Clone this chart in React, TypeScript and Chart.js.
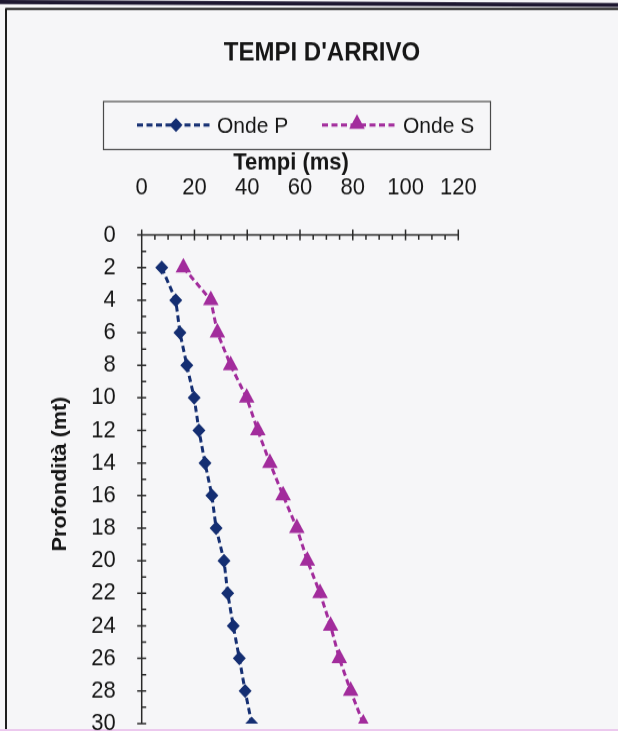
import React, { useEffect, useRef } from "react";
import { Chart, registerables } from "chart.js";

Chart.register(...registerables);

// ---- data ----
const depths: number[] = [2, 4, 6, 8, 10, 12, 14, 16, 18, 20, 22, 24, 26, 28, 30];
const ondeP: number[] = [7.6, 12.9, 14.5, 17.1, 19.9, 21.7, 24.0, 26.6, 28.2, 31.2, 32.6, 34.7, 37.0, 39.2, 41.7];
const ondeS: number[] = [15.8, 26.2, 28.7, 33.7, 39.8, 44.0, 48.6, 53.6, 58.8, 62.8, 67.6, 71.6, 74.9, 79.2, 84.0];
const xTickValues: number[] = [0, 20, 40, 60, 80, 100, 120];
const yTickValues: number[] = [0, 2, 4, 6, 8, 10, 12, 14, 16, 18, 20, 22, 24, 26, 28, 30];
const chartTitle = "TEMPI D'ARRIVO";
const xTitle = "Tempi (ms)";
const yTitle = "Profondità (mt)";
const seriesLabels: string[] = ["Onde P", "Onde S"];

const COLOR_P = "#142e72";
const COLOR_S = "#a22c9c";
const AXIS = "#2a2a2a";
const TEXT = "#161616";
const FONT = '"Liberation Sans", Arial, sans-serif';

// the scanned reference is slightly taller than wide; draw on a canvas and stretch it vertically
const SY = 1.08;
const W = 618;
const H = 720; // internal canvas height (displayed * SY, clipped at 731)
const v = (y: number) => y / SY; // reference y -> internal y

function drawDiamond(ctx: CanvasRenderingContext2D, x: number, y: number, r: number, c: string) {
  ctx.beginPath();
  ctx.moveTo(x, y - r);
  ctx.lineTo(x + r, y);
  ctx.lineTo(x, y + r);
  ctx.lineTo(x - r, y);
  ctx.closePath();
  ctx.fillStyle = c;
  ctx.fill();
}

function drawTriangle(ctx: CanvasRenderingContext2D, x: number, y: number, r: number, c: string) {
  ctx.beginPath();
  ctx.moveTo(x, y - r);
  ctx.lineTo(x + r * 0.866, y + r * 0.5);
  ctx.lineTo(x - r * 0.866, y + r * 0.5);
  ctx.closePath();
  ctx.fillStyle = c;
  ctx.fill();
}

const decorPlugin = {
  id: "decor",
  beforeDraw(chart: any) {
    const ctx: CanvasRenderingContext2D = chart.ctx;
    ctx.save();
    ctx.fillStyle = "#f6f6f8";
    ctx.fillRect(0, 0, chart.width, chart.height);
    // top dark bar
    ctx.fillStyle = "#1d1730";
    ctx.beginPath();
    ctx.moveTo(0, 0);
    ctx.lineTo(W, v(3));
    ctx.lineTo(W, v(7));
    ctx.lineTo(0, v(4));
    ctx.closePath();
    ctx.fill();
    // frame box
    ctx.strokeStyle = "#1e1e1e";
    ctx.lineWidth = 2;
    ctx.beginPath();
    ctx.moveTo(6, v(9));
    ctx.lineTo(W + 5, v(9));
    ctx.moveTo(6, v(8));
    ctx.lineTo(6, H);
    ctx.stroke();
    // bottom pink edge
    ctx.fillStyle = "#ecc8ee";
    ctx.fillRect(0, v(729), W, v(2.5));
    ctx.restore();
  },
  beforeDatasetsDraw(chart: any) {
    const ctx: CanvasRenderingContext2D = chart.ctx;
    const xs = chart.scales.x;
    const ys = chart.scales.y;
    const ax = xs.left;
    const ay = ys.getPixelForValue(0);
    ctx.save();
    ctx.strokeStyle = AXIS;
    ctx.lineWidth = 1.5;
    ctx.beginPath();
    ctx.moveTo(xs.left, ay);
    ctx.lineTo(xs.right, ay);
    ctx.moveTo(ax, ys.top);
    ctx.lineTo(ax, ys.bottom);
    for (let t = 0; t <= 120; t += 5) {
      const px = xs.getPixelForValue(t);
      if (t % 20 === 0) {
        ctx.moveTo(px, ay - 5);
        ctx.lineTo(px, ay + 5);
      } else {
        ctx.moveTo(px, ay);
        ctx.lineTo(px, ay + 4.5);
      }
    }
    for (let t = 0; t <= 30; t += 1) {
      const py = ys.getPixelForValue(t);
      if (t % 2 === 0) {
        ctx.moveTo(ax - 4.5, py);
        ctx.lineTo(ax + 4.5, py);
      } else {
        ctx.moveTo(ax, py);
        ctx.lineTo(ax + 4.5, py);
      }
    }
    ctx.stroke();
    ctx.restore();
  },
  afterDraw(chart: any) {
    const ctx: CanvasRenderingContext2D = chart.ctx;
    ctx.save();
    ctx.fillStyle = TEXT;
    ctx.font = `bold 24px ${FONT}`;
    ctx.textAlign = "center";
    ctx.textBaseline = "middle";
    ctx.fillText(chartTitle, 322, v(53));
    ctx.font = `bold 22px ${FONT}`;
    ctx.textBaseline = "alphabetic";
    ctx.fillText(xTitle, 291, v(170));
    ctx.save();
    ctx.translate(60, v(474));
    ctx.rotate(-Math.PI / 2);
    ctx.font = `bold 20px ${FONT}`;
    ctx.textBaseline = "middle";
    ctx.fillText(yTitle, 0, 0);
    ctx.restore();

    // legend
    ctx.strokeStyle = "#4a4a4a";
    ctx.lineWidth = 1.2;
    ctx.strokeRect(103.5, v(101.5), 387, v(48));
    const ly = v(125);
    const items = [
      { x0: 137, x1: 212, mx: 176, tx: 217, color: COLOR_P, kind: "d" },
      { x0: 322, x1: 397, mx: 357, tx: 403, color: COLOR_S, kind: "t" },
    ];
    items.forEach((it, i) => {
      ctx.save();
      ctx.strokeStyle = it.color;
      ctx.lineWidth = 3;
      ctx.setLineDash([6, 3.5]);
      ctx.beginPath();
      ctx.moveTo(it.x0, ly);
      ctx.lineTo(it.x1, ly);
      ctx.stroke();
      ctx.restore();
      if (it.kind === "d") drawDiamond(ctx, it.mx, ly, 6.5, it.color);
      else drawTriangle(ctx, it.mx, ly - 1, 9, it.color);
      ctx.fillStyle = TEXT;
      ctx.font = `21px ${FONT}`;
      ctx.textAlign = "left";
      ctx.textBaseline = "middle";
      ctx.fillText(seriesLabels[i], it.tx, ly + 1);
    });
    ctx.restore();
  },
};

export default function App() {
  const ref = useRef<HTMLCanvasElement | null>(null);

  useEffect(() => {
    if (!ref.current) return;
    const chart = new Chart(ref.current, {
      type: "line",
      data: {
        datasets: [
          {
            label: seriesLabels[0],
            data: depths.map((d, i) => ({ x: ondeP[i], y: d })),
            borderColor: COLOR_P,
            backgroundColor: COLOR_P,
            borderWidth: 3,
            borderDash: [6, 3.5],
            pointStyle: "rectRot",
            pointRadius: 6.5,
            pointBorderWidth: 0,
            pointBackgroundColor: COLOR_P,
            tension: 0,
          },
          {
            label: seriesLabels[1],
            data: depths.map((d, i) => ({ x: ondeS[i], y: d })),
            borderColor: COLOR_S,
            backgroundColor: COLOR_S,
            borderWidth: 3,
            borderDash: [6, 3.5],
            pointStyle: "triangle",
            pointRadius: 9,
            pointBorderWidth: 0,
            pointBackgroundColor: COLOR_S,
            tension: 0,
          },
        ],
      },
      options: {
        animation: false,
        responsive: false,
        maintainAspectRatio: false,
        devicePixelRatio: 1,
        layout: { padding: { left: 0, top: 0, right: W - 458.3, bottom: H - v(723.5) } },
        plugins: {
          legend: { display: false },
          title: { display: false },
          tooltip: { enabled: false },
        },
        scales: {
          x: {
            type: "linear",
            position: "top",
            min: 0,
            max: 120,
            grid: { display: false, drawTicks: false },
            border: { display: false },
            afterBuildTicks: (s: any) => {
              s.ticks = xTickValues.map((t) => ({ value: t }));
            },
            afterFit: (s: any) => {
              s.height = v(235);
            },
            ticks: {
              color: TEXT,
              font: { family: FONT, size: 22 },
              padding: 30,
              maxRotation: 0,
              autoSkip: false,
            },
          },
          y: {
            type: "linear",
            position: "left",
            reverse: true,
            min: 0,
            max: 30,
            grid: { display: false, drawTicks: false },
            border: { display: false },
            afterBuildTicks: (s: any) => {
              s.ticks = yTickValues.map((t) => ({ value: t }));
            },
            afterFit: (s: any) => {
              s.width = 141.7;
            },
            ticks: {
              color: TEXT,
              font: { family: FONT, size: 22 },
              padding: 26,
              autoSkip: false,
            },
          },
        },
      },
      plugins: [decorPlugin],
    } as any);
    return () => chart.destroy();
  }, []);

  return (
    <div
      style={{
        position: "fixed",
        left: 0,
        top: 0,
        width: W,
        height: 731,
        overflow: "hidden",
        background: "#f6f6f8",
      }}
    >
      <div style={{ transform: `scaleY(${SY})`, transformOrigin: "0 0", width: W, height: H }}>
        <canvas ref={ref} width={W} height={H} style={{ display: "block", width: W, height: H }} />
      </div>
    </div>
  );
}
